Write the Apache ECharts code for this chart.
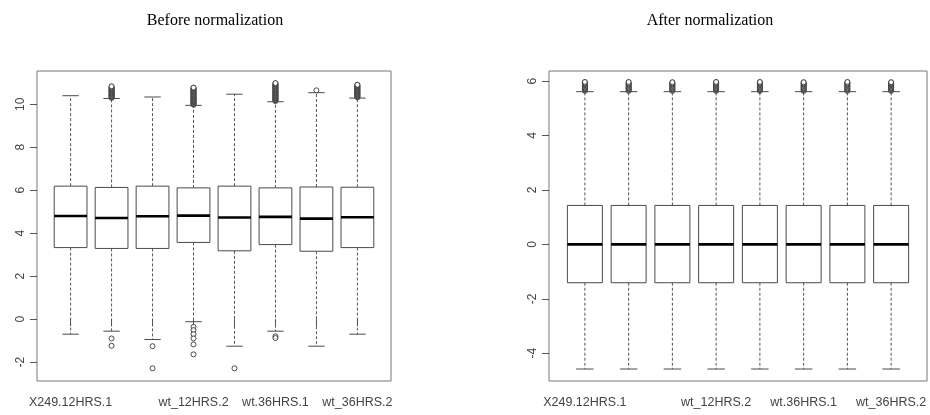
<!DOCTYPE html>
<html>
<head>
<meta charset="utf-8">
<script src="https://cdn.jsdelivr.net/npm/echarts@6/dist/echarts.min.js"></script>
<style>html,body{margin:0;padding:0;background:#fff}#c{width:930px;height:415px}</style>
</head>
<body>
<div id="c"></div>
<script>
// ---- data ----
const categories = ['X249.12HRS.1','X249.12HRS.2','wt_12HRS.1','wt_12HRS.2','X249.36HRS.1','wt.36HRS.1','X249.36HRS.2','wt_36HRS.2'];
const shownLabelPositions = [1, 4, 6, 8];
const titles = ['Before normalization', 'After normalization'];

// Before normalization
const beforeLowerWhisker = [-0.70, -0.56, -0.95, -0.12, -1.26, -0.56, -1.26, -0.70];
const beforeQ1           = [3.33, 3.29, 3.29, 3.57, 3.18, 3.47, 3.16, 3.33];
const beforeMedian       = [4.80, 4.71, 4.79, 4.82, 4.73, 4.76, 4.68, 4.74];
const beforeQ3           = [6.19, 6.13, 6.19, 6.11, 6.19, 6.11, 6.15, 6.14];
const beforeUpperWhisker = [10.40, 10.27, 10.34, 9.95, 10.47, 10.12, 10.54, 10.29];
const beforeOutliers = [
  [],
  [10.30, 10.33, 10.36, 10.39, 10.42, 10.45, 10.48, 10.51, 10.54, 10.57, 10.60, 10.63, 10.66, 10.69, 10.72, 10.75, 10.78, 10.81, 10.84, -0.90, -1.24],
  [-1.26, -2.29],
  [9.98, 10.01, 10.04, 10.07, 10.10, 10.13, 10.16, 10.19, 10.22, 10.25, 10.28, 10.31, 10.34, 10.37, 10.40, 10.43, 10.46, 10.49, 10.52, 10.55, 10.58, 10.61, 10.64, 10.67, 10.70, 10.73, 10.76, 10.78,
   -0.36, -0.51, -0.70, -0.90, -1.18, -1.64],
  [-2.29],
  [10.15, 10.18, 10.21, 10.24, 10.27, 10.30, 10.33, 10.36, 10.39, 10.42, 10.45, 10.48, 10.51, 10.54, 10.57, 10.60, 10.63, 10.66, 10.69, 10.72, 10.75, 10.78, 10.81, 10.84, 10.87, 10.90, 10.93, 10.96, 10.99, -0.80, -0.88],
  [10.65],
  [10.32, 10.35, 10.38, 10.41, 10.44, 10.47, 10.50, 10.53, 10.56, 10.59, 10.62, 10.65, 10.68, 10.71, 10.74, 10.77, 10.80, 10.83, 10.86, 10.89, 10.91]
];
const beforeTicks = [-2, 0, 2, 4, 6, 8, 10];

// After normalization
const afterLowerWhisker = [-4.58, -4.58, -4.58, -4.58, -4.58, -4.58, -4.58, -4.58];
const afterQ1           = [-1.41, -1.41, -1.41, -1.41, -1.41, -1.41, -1.41, -1.41];
const afterMedian       = [0, 0, 0, 0, 0, 0, 0, 0];
const afterQ3           = [1.43, 1.43, 1.43, 1.43, 1.43, 1.43, 1.43, 1.43];
const afterUpperWhisker = [5.61, 5.61, 5.61, 5.61, 5.61, 5.61, 5.61, 5.61];
const afterOutliers = [
  [5.64, 5.67, 5.70, 5.73, 5.76, 5.79, 5.82, 5.85, 5.88, 5.91, 5.94, 5.97],
  [5.64, 5.67, 5.70, 5.73, 5.76, 5.79, 5.82, 5.85, 5.88, 5.91, 5.94, 5.97],
  [5.64, 5.67, 5.70, 5.73, 5.76, 5.79, 5.82, 5.85, 5.88, 5.91, 5.94, 5.96],
  [5.64, 5.67, 5.70, 5.73, 5.76, 5.79, 5.82, 5.85, 5.88, 5.91, 5.94, 5.97],
  [5.64, 5.67, 5.70, 5.73, 5.76, 5.79, 5.82, 5.85, 5.88, 5.91, 5.94, 5.97],
  [5.64, 5.67, 5.70, 5.73, 5.76, 5.79, 5.82, 5.85, 5.88, 5.91, 5.94, 5.96],
  [5.64, 5.67, 5.70, 5.73, 5.76, 5.79, 5.82, 5.85, 5.88, 5.91, 5.94, 5.97],
  [5.64, 5.67, 5.70, 5.73, 5.76, 5.79, 5.82, 5.85, 5.88, 5.91, 5.94, 5.96]
];
const afterTicks = [-4, -2, 0, 2, 4, 6];

// ---- build ----
const positions = categories.map((c, i) => i + 1);
function boxData(lw, q1, md, q3, uw) {
  return positions.map((p, i) => [p, lw[i], q1[i], md[i], q3[i], uw[i]]);
}
function outlierData(out) {
  const d = [];
  out.forEach((arr, i) => arr.forEach(v => d.push([positions[i], v])));
  return d;
}
const LINE = '#4a4a4a';
function renderBox(params, api) {
  const x = api.value(0);
  const pLw = api.coord([x, api.value(1)]);
  const pQ1 = api.coord([x, api.value(2)]);
  const pMd = api.coord([x, api.value(3)]);
  const pQ3 = api.coord([x, api.value(4)]);
  const pUw = api.coord([x, api.value(5)]);
  const half = api.size([0.8, 0])[0] / 2;
  const st = half / 2;
  const cx = pMd[0];
  const dashed = {stroke: '#555', lineWidth: 1, lineDash: [3, 2], fill: null};
  const solid = {stroke: LINE, lineWidth: 1, fill: null};
  return {
    type: 'group',
    children: [
      {type: 'line', shape: {x1: cx, y1: pQ3[1], x2: cx, y2: pUw[1]}, style: dashed},
      {type: 'line', shape: {x1: cx, y1: pQ1[1], x2: cx, y2: pLw[1]}, style: dashed},
      {type: 'line', shape: {x1: cx - st, y1: pUw[1], x2: cx + st, y2: pUw[1]}, style: solid},
      {type: 'line', shape: {x1: cx - st, y1: pLw[1], x2: cx + st, y2: pLw[1]}, style: solid},
      {type: 'rect', shape: {x: cx - half, y: pQ3[1], width: half * 2, height: pQ1[1] - pQ3[1]}, style: {stroke: LINE, lineWidth: 1, fill: '#fff'}},
      {type: 'line', shape: {x1: cx - half, y1: pMd[1], x2: cx + half, y2: pMd[1]}, style: {stroke: '#000', lineWidth: 2.6}}
    ]
  };
}
function xAxis(gridIndex) {
  return {
    type: 'value', gridIndex, min: 0.18, max: 8.82,
    splitLine: {show: false},
    axisLine: {show: false},
    axisTick: {show: true, customValues: positions, length: 7, lineStyle: {color: '#555'}},
    axisLabel: {customValues: shownLabelPositions, margin: 15, fontSize: 12.5, color: '#444', fontFamily: 'Liberation Sans',
      formatter: v => categories[Math.round(v) - 1]}
  };
}
function yAxis(gridIndex, min, max, ticks) {
  return {
    type: 'value', gridIndex, min, max,
    splitLine: {show: false},
    axisLine: {show: false},
    axisTick: {show: true, customValues: ticks, length: 7, lineStyle: {color: '#555'}},
    axisLabel: {customValues: ticks, rotate: 90, margin: 10, fontSize: 12, color: '#444', fontFamily: 'Liberation Sans'}
  };
}
const outStyle = {color: '#fff', borderColor: '#222', borderWidth: 1};

const chart = echarts.init(document.getElementById('c'), null, {renderer: 'canvas'});
chart.setOption({
  animation: false,
  backgroundColor: '#fff',
  title: [
    {text: titles[0], left: 210, top: 8, textAlign: 'center', textStyle: {fontFamily: 'Liberation Serif', fontSize: 16, fontWeight: 'normal', color: '#000'}},
    {text: titles[1], left: 705, top: 8, textAlign: 'center', textStyle: {fontFamily: 'Liberation Serif', fontSize: 16, fontWeight: 'normal', color: '#000'}}
  ],
  grid: [
    {left: 37, top: 71, width: 354, height: 310, show: true, borderColor: '#777', borderWidth: 1, backgroundColor: 'transparent'},
    {left: 549, top: 71, width: 378, height: 310, show: true, borderColor: '#777', borderWidth: 1, backgroundColor: 'transparent'}
  ],
  xAxis: [xAxis(0), xAxis(1)],
  yAxis: [yAxis(0, -2.88, 11.55, beforeTicks), yAxis(1, -5.02, 6.37, afterTicks)],
  series: [
    {type: 'custom', xAxisIndex: 0, yAxisIndex: 0, renderItem: renderBox, clip: false,
      encode: {x: 0, y: [1, 2, 3, 4, 5]}, data: boxData(beforeLowerWhisker, beforeQ1, beforeMedian, beforeQ3, beforeUpperWhisker)},
    {type: 'scatter', xAxisIndex: 0, yAxisIndex: 0, symbol: 'circle', symbolSize: 5, itemStyle: outStyle,
      data: outlierData(beforeOutliers)},
    {type: 'custom', xAxisIndex: 1, yAxisIndex: 1, renderItem: renderBox, clip: false,
      encode: {x: 0, y: [1, 2, 3, 4, 5]}, data: boxData(afterLowerWhisker, afterQ1, afterMedian, afterQ3, afterUpperWhisker)},
    {type: 'scatter', xAxisIndex: 1, yAxisIndex: 1, symbol: 'circle', symbolSize: 5, itemStyle: outStyle,
      data: outlierData(afterOutliers)}
  ]
});
</script>
</body>
</html>
